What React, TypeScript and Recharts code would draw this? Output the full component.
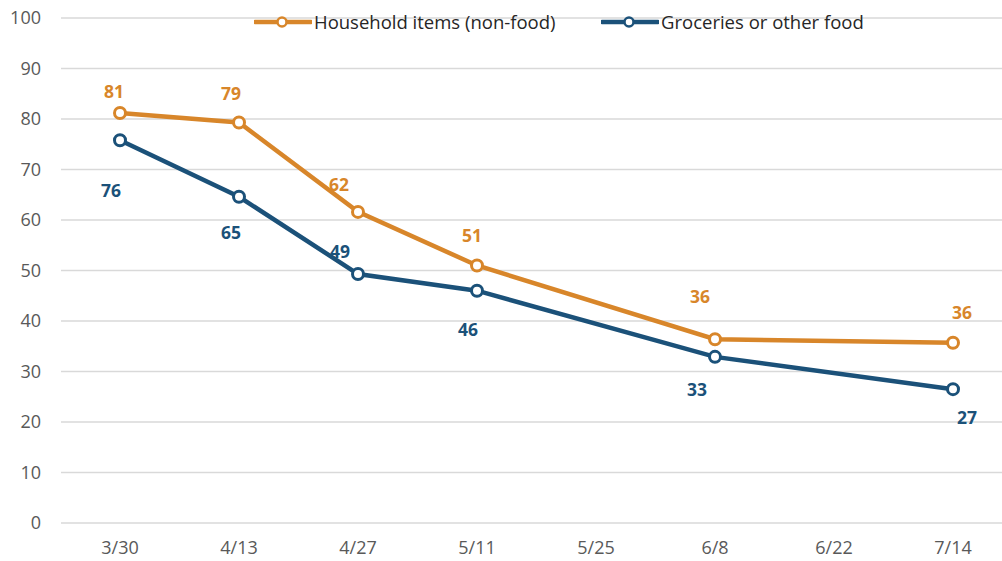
import React from 'react';
import { LineChart, Line, XAxis, YAxis, CartesianGrid, LabelList } from 'recharts';

const dates = ['3/30', '4/13', '4/27', '5/11', '5/25', '6/8', '6/22', '7/14'];
const household: (number | null)[] = [81.2, 79.3, 61.6, 51.0, null, 36.4, null, 35.7];
const groceries: (number | null)[] = [75.8, 64.6, 49.3, 46.0, null, 32.9, null, 26.5];
const yTicks = [0, 10, 20, 30, 40, 50, 60, 70, 80, 90, 100];

const ORANGE = '#d8862a';
const NAVY = '#1b5179';
const FONT = '"Open Sans", "Noto Sans", sans-serif';

// where each value label sits relative to its point (dx, dy)
const householdLabelPos = [[-6, -22], [-8, -30], [-19, -28], [-5, -30], [0, 0], [-15, -43], [0, 0], [9, -31]];
const groceriesLabelPos = [[-9, 50], [-8, 35], [-18, -23], [-9, 38], [0, 0], [-18, 32], [0, 0], [14, 28]];

const data = dates.map((d, i) => ({ date: d, household: household[i], groceries: groceries[i] }));

const makeLabel = (color: string, pos: number[][]) => (props: any) => {
  const { x, y, value, index } = props;
  if (value == null) return null;
  const [dx, dy] = pos[index];
  return (
    <text
      x={x + dx}
      y={y + dy}
      fill={color}
      textAnchor="middle"
      dominantBaseline="central"
      fontSize={17.5}
      fontWeight={700}
      fontFamily={FONT}
    >
      {Math.round(value)}
    </text>
  );
};

const LegendItem: React.FC<{ color: string; label: string; left: number }> = ({ color, label, left }) => (
  <div style={{ position: 'absolute', left, top: 11, display: 'flex', alignItems: 'center' }}>
    <svg width={58} height={14}>
      <line x1={1} y1={7} x2={57} y2={7} stroke={color} strokeWidth={4.5} strokeLinecap="round" />
      <circle cx={28} cy={7} r={4.5} fill="#fff" stroke={color} strokeWidth={2.5} />
    </svg>
    <span style={{ fontFamily: FONT, fontSize: 18.5, color: '#262626', marginLeft: 2, lineHeight: '22px' }}>{label}</span>
  </div>
);

const dot = (color: string) => ({ r: 5.5, fill: '#fff', stroke: color, strokeWidth: 3 });

export default function App() {
  return (
    <div style={{ position: 'absolute', left: 0, top: 0, width: 1002, height: 561, background: '#fff' }}>
      <LineChart width={1002} height={561} data={data} margin={{ top: 18, right: 0, bottom: 0, left: 0 }}>
        <CartesianGrid vertical={false} stroke="#d9d9d9" strokeWidth={1.5} />
        <XAxis
          dataKey="date"
          padding={{ left: 59, right: 49 }}
          axisLine={false}
          tickLine={false}
          tickMargin={12}
          height={38}
          tick={{ fill: '#595959', fontSize: 18, fontFamily: FONT }}
          interval={0}
        />
        <YAxis
          domain={[0, 100]}
          ticks={yTicks}
          axisLine={false}
          tickLine={false}
          tickMargin={14}
          width={61}
          tick={{ fill: '#595959', fontSize: 18, fontFamily: FONT }}
        />
        <Line
          type="linear"
          dataKey="groceries"
          stroke={NAVY}
          strokeWidth={4.5}
          connectNulls
          dot={dot(NAVY)}
          activeDot={false}
          isAnimationActive={false}
        >
          <LabelList dataKey="groceries" content={makeLabel(NAVY, groceriesLabelPos)} />
        </Line>
        <Line
          type="linear"
          dataKey="household"
          stroke={ORANGE}
          strokeWidth={4.5}
          connectNulls
          dot={dot(ORANGE)}
          activeDot={false}
          isAnimationActive={false}
        >
          <LabelList dataKey="household" content={makeLabel(ORANGE, householdLabelPos)} />
        </Line>
      </LineChart>
      <LegendItem color={ORANGE} label="Household items (non-food)" left={254} />
      <LegendItem color={NAVY} label="Groceries or other food" left={601} />
    </div>
  );
}
